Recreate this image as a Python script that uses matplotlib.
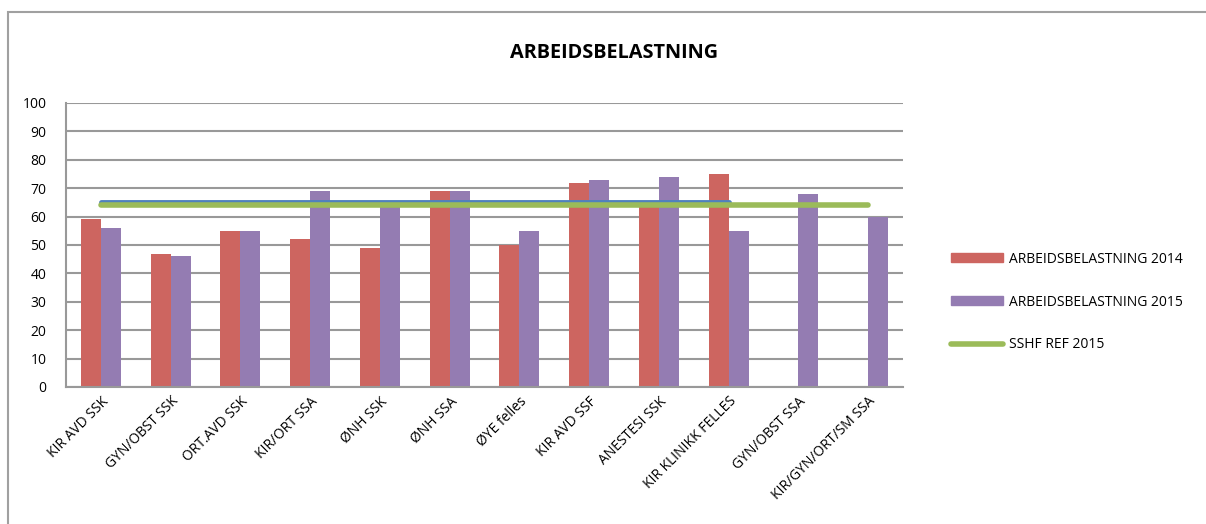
import numpy as np
import matplotlib
matplotlib.use("Agg")
import matplotlib.pyplot as plt
from matplotlib.patches import Rectangle, Patch
from matplotlib.lines import Line2D

categories = ["KIR AVD SSK", "GYN/OBST SSK", "ORT.AVD SSK", "KIR/ORT SSA", "ØNH SSK",
              "ØNH SSA", "ØYE felles", "KIR AVD SSF", "ANESTESI SSK", "KIR KLINIKK FELLES",
              "GYN/OBST SSA", "KIR/GYN/ORT/SM SSA"]
belastning_2014 = [59, 47, 55, 52, 49, 69, 50, 72, 64, 75, np.nan, np.nan]
belastning_2015 = [56, 46, 55, 69, 64, 69, 55, 73, 74, 55, 68, 60]
ref_blue = [65] * 10 + [np.nan, np.nan]
sshf_ref_2015 = [64] * 12

red = "#CD6560"
purple = "#947CB2"
green = "#9BBB59"
blue = "#4F81BD"
grid_col = "#999999"

plt.rcParams["font.family"] = ["Open Sans", "DejaVu Sans"]

fig = plt.figure(figsize=(12.06, 5.24), dpi=100)
W, H = 1206, 524
ax = fig.add_axes([66 / W, 1 - 387 / H, (903 - 66) / W, (387 - 103) / H])

x = np.arange(len(categories))
bw = 0.285
ax.bar(x - bw / 2, belastning_2014, bw, color=red, zorder=2)
ax.bar(x + bw / 2, belastning_2015, bw, color=purple, zorder=2)
ax.plot(x, ref_blue, color=blue, lw=3.5, solid_capstyle="round", zorder=3)
ax.plot(x, sshf_ref_2015, color=green, lw=4, solid_capstyle="round", zorder=4)

ax.set_xlim(-0.5, len(categories) - 0.5)
ax.set_ylim(0, 100)
ax.set_yticks(range(0, 101, 10))
ax.yaxis.grid(True, color=grid_col, lw=1.5, zorder=0)
ax.set_axisbelow(True)
ax.set_xticks(x)
ax.set_xticklabels(categories, rotation=45, ha="right", rotation_mode="anchor", fontsize=10)
ax.tick_params(axis="x", length=0, pad=5)
ax.tick_params(axis="y", length=0, pad=14, labelsize=10)
for side in ["top", "right"]:
    ax.spines[side].set_visible(False)
ax.spines["left"].set_color(grid_col)
ax.spines["left"].set_linewidth(1.5)
ax.spines["bottom"].set_color(grid_col)
ax.spines["bottom"].set_linewidth(1.5)

fig.text(614 / W, 1 - 53 / H, "ARBEIDSBELASTNING", ha="center", va="center",
         fontsize=14.3, fontweight="bold")

handles = [Patch(color=red), Patch(color=purple),
           Line2D([0], [0], color=green, lw=4, solid_capstyle="round")]
labels = ["ARBEIDSBELASTNING 2014", "ARBEIDSBELASTNING 2015", "SSHF REF 2015"]
fig.legend(handles, labels, loc="center left", bbox_to_anchor=(938 / W, 1 - 302 / H),
           frameon=False, fontsize=10, handlelength=3.8, handleheight=0.6,
           labelspacing=2.0, handletextpad=0.4)

fig.add_artist(Rectangle((8 / W, -0.1), 1.2, 1 - 12 / H + 0.1, transform=fig.transFigure,
                         fill=False, edgecolor="#A0A0A0", lw=1.5))

fig.savefig("out.png", dpi=100)
